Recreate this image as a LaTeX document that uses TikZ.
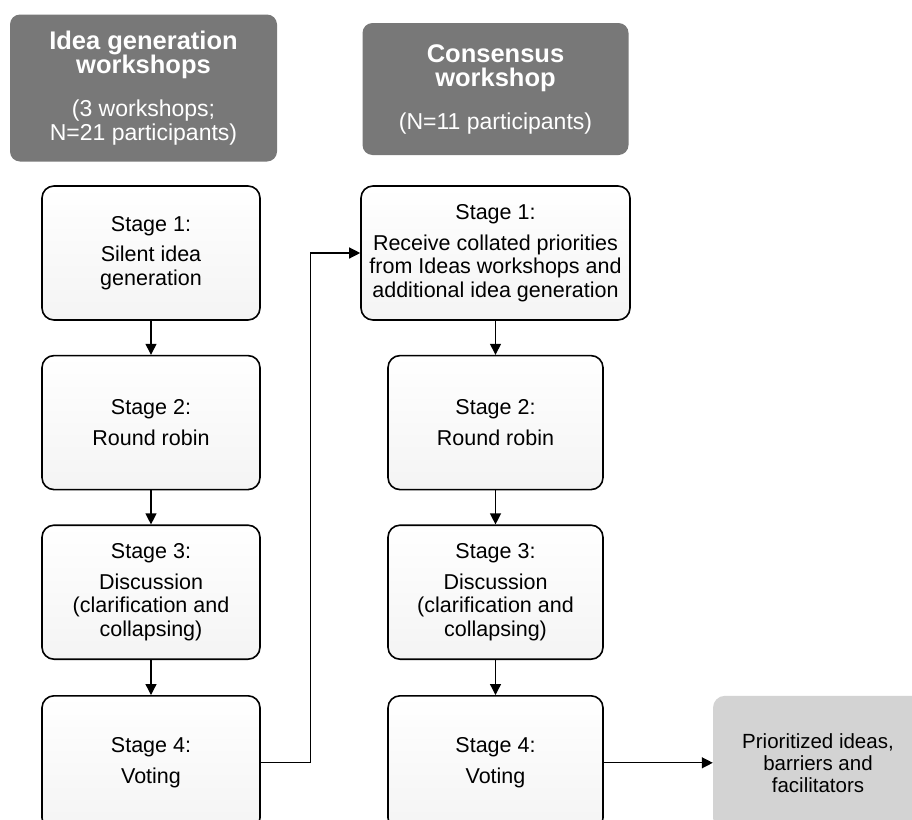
\documentclass[tikz,border=0pt]{standalone}
\usepackage{fontspec}
\setmainfont{Liberation Sans}
\usetikzlibrary{arrows.meta,positioning}
\definecolor{HeadGray}{HTML}{787878}
\definecolor{OutGray}{HTML}{D3D3D3}
\definecolor{StageFill}{HTML}{F4F4F4}
\newcommand{\hdrtitle}{\fontsize{25.5}{28}\selectfont\bfseries}
\newcommand{\hdrsub}{\fontsize{23}{24}\selectfont\mdseries}

\begin{document}
\begin{tikzpicture}[x=1pt,y=-1pt,
  header/.style={fill=HeadGray,rounded corners=10pt,text=white,align=center,inner sep=0pt,font=\hdrsub},
  stage/.style={draw=black,line width=1.6pt,rounded corners=12pt,top color=white,bottom color=StageFill,align=center,minimum width=218pt,minimum height=134pt,inner sep=0pt,font=\fontsize{21.5}{23.5}\selectfont},
  result/.style={fill=OutGray,rounded corners=12pt,align=center,minimum width=210pt,minimum height=134pt,inner sep=0pt,font=\fontsize{20.5}{22}\selectfont},
  arr/.style={-{Triangle[length=11pt,width=11pt]},line width=1.3pt},
]
\useasboundingbox (0,0) rectangle (912,819);
\node[header,minimum width=267pt,minimum height=147pt] (hdrIdea) at (143.5,88) {\hdrtitle Idea generation\\\hdrtitle workshops\\[19pt](3 workshops;\\N=21 participants)};
\node[header,minimum width=266pt,minimum height=132pt] (hdrCons) at (495.5,89) {\hdrtitle Consensus\\\hdrtitle workshop\\[19pt](N=11 participants)};
\node[stage] (ideaA) at (151,253) {Stage 1:\\[7pt]Silent idea\\generation};
\node[stage,below=34pt of ideaA] (ideaB) {Stage 2:\\[7pt]Round robin};
\node[stage,below=34pt of ideaB] (ideaC) {Stage 3:\\[7pt]Discussion\\(clarification and\\collapsing)};
\node[stage,below=35pt of ideaC] (ideaD) {Stage 4:\\[7pt]Voting};
\node[stage,minimum width=269pt] (consA) at (495.5,253) {Stage 1:\\[7pt]Receive collated priorities\\from Ideas workshops and\\additional idea generation};
\node[stage,minimum width=215pt,below=34pt of consA] (consB) {Stage 2:\\[7pt]Round robin};
\node[stage,minimum width=215pt,below=34pt of consB] (consC) {Stage 3:\\[7pt]Discussion\\(clarification and\\collapsing)};
\node[stage,minimum width=215pt,below=35pt of consC] (consD) {Stage 4:\\[7pt]Voting};
\node[result,right=109pt of consD] (outcome) {Prioritized ideas,\\barriers and\\facilitators};
\draw[arr] (ideaA) -- (ideaB);
\draw[arr] (ideaB) -- (ideaC);
\draw[arr] (ideaC) -- (ideaD);
\draw[arr] (consA) -- (consB);
\draw[arr] (consB) -- (consC);
\draw[arr] (consC) -- (consD);
\draw[arr] (ideaD.east) -- ++(50,0) |- (consA.west);
\draw[arr] (consD.east) -- (outcome.west);
\end{tikzpicture}
\end{document}
